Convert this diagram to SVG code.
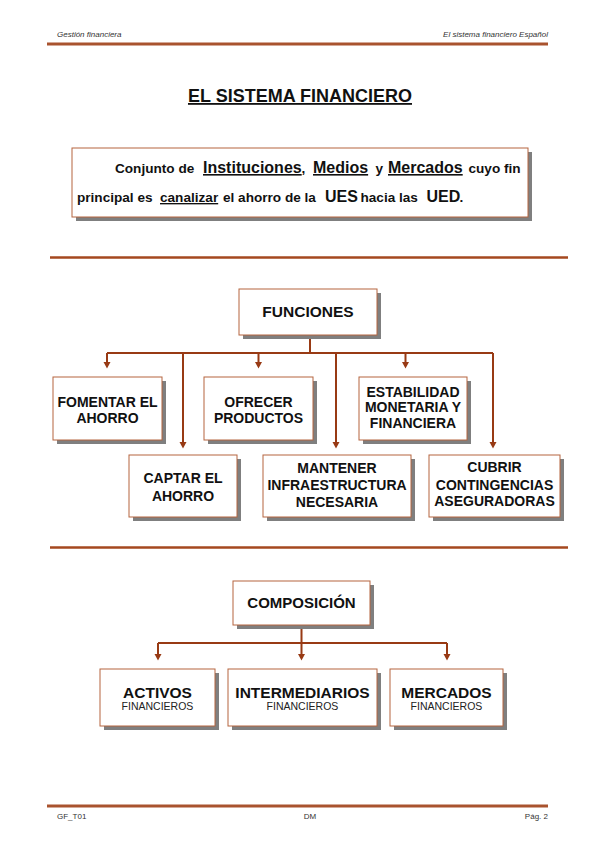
<svg xmlns="http://www.w3.org/2000/svg" width="599" height="848" viewBox="0 0 599 848">
<style>
.bg{fill:#ffffff}
.rule{stroke:#a9532e;stroke-width:3;fill:none}
.sep{stroke:#a5481f;stroke-width:2.5;fill:none}
.hdr{font-family:"Liberation Sans",Arial,sans-serif;font-size:8px;font-style:italic;fill:#333}
.ftr{font-family:"Liberation Sans",Arial,sans-serif;font-size:8px;fill:#333}
.title{font-family:"Liberation Sans",Arial,sans-serif;font-size:18px;font-weight:bold;fill:#111;text-anchor:middle;text-decoration:underline}
.def{font-family:"Liberation Sans",Arial,sans-serif;font-size:13.6px;font-weight:bold;fill:#111}
.big{font-size:16px}
.ul{text-decoration:underline}
.box{fill:#ffffff;stroke:#b5653f;stroke-width:1}
.shadow{fill:#7f7f7f}
.lbl{font-family:"Liberation Sans",Arial,sans-serif;font-size:14px;font-weight:bold;fill:#111;text-anchor:middle}
.head{font-size:15.5px}
.sub{font-family:"Liberation Sans",Arial,sans-serif;font-size:10.5px;fill:#222;text-anchor:middle}
.conn{stroke:#983a14;stroke-width:2;fill:none}
.ah{fill:#983a14}
</style>
<rect class="bg" x="0" y="0" width="599" height="848"/>

<g id="header">
<text class="hdr" x="57" y="37">Gestión financiera</text>
<text class="hdr" x="548" y="37" text-anchor="end">El sistema financiero Español</text>
<line class="rule" x1="47" y1="44" x2="548" y2="44"/>
</g>

<g id="title">
<text class="title" x="300" y="102">EL SISTEMA FINANCIERO</text>
</g>

<g id="definicion">
<rect class="shadow" x="76" y="152" width="456" height="69"/>
<rect class="box" x="72" y="148" width="456" height="69"/>
<text class="def" y="173"><tspan x="115">Conjunto de</tspan><tspan x="203" class="big ul">Instituciones</tspan><tspan x="301.5">,</tspan><tspan x="313" class="big ul">Medios</tspan><tspan x="375.5">y</tspan><tspan x="388" class="big ul">Mercados</tspan><tspan x="468.5">cuyo fin</tspan></text>
<text class="def" y="202"><tspan x="77">principal es</tspan><tspan x="160" class="ul">canalizar</tspan><tspan x="223">el ahorro de la</tspan><tspan x="325" class="big">UES</tspan><tspan x="360.5">hacia las</tspan><tspan x="426.5" class="big">UED</tspan><tspan x="459.5">.</tspan></text>
</g>

<line class="sep" x1="50" y1="257.5" x2="568" y2="257.5"/>
<line class="sep" x1="50" y1="547.5" x2="568" y2="547.5"/>

<g id="connectors">
<path class="conn" d="M310,335 V353 M107,353 H493"/>
<path class="conn" d="M107,353 V363 M183,353 V443 M258.5,353 V363 M336,353 V443 M405.5,353 V363 M493,353 V443"/>
<path class="ah" d="M103.5,362 h7 l-3.5,6.5 z M179.5,442 h7 l-3.5,6.5 z M255,362 h7 l-3.5,6.5 z M332.5,442 h7 l-3.5,6.5 z M402,362 h7 l-3.5,6.5 z M489.5,442 h7 l-3.5,6.5 z"/>
<path class="conn" d="M301.5,625 V643 M158,643 H447"/>
<path class="conn" d="M158,643 V655 M301.5,643 V655 M447,643 V655"/>
<path class="ah" d="M154.5,654 h7 l-3.5,6.5 z M298,654 h7 l-3.5,6.5 z M443.5,654 h7 l-3.5,6.5 z"/>
</g>

<g id="funciones">
<rect class="shadow" x="243" y="293" width="138" height="46"/>
<rect class="box" x="239" y="289" width="138" height="46"/>
<text class="lbl head" x="308" y="317">FUNCIONES</text>
</g>
<g id="fomentar">
<rect class="shadow" x="57" y="381" width="109" height="63"/>
<rect class="box" x="53" y="377" width="109" height="63"/>
<text class="lbl"><tspan x="107.5" y="407">FOMENTAR EL</tspan><tspan x="107.5" y="422.5">AHORRO</tspan></text>
</g>
<g id="ofrecer">
<rect class="shadow" x="208" y="381" width="109" height="63"/>
<rect class="box" x="204" y="377" width="109" height="63"/>
<text class="lbl"><tspan x="258.5" y="407">OFRECER</tspan><tspan x="258.5" y="422.5">PRODUCTOS</tspan></text>
</g>
<g id="estabilidad">
<rect class="shadow" x="363" y="381" width="108" height="63"/>
<rect class="box" x="359" y="377" width="108" height="63"/>
<text class="lbl"><tspan x="413" y="396.5">ESTABILIDAD</tspan><tspan x="413" y="412">MONETARIA Y</tspan><tspan x="413" y="427.5">FINANCIERA</tspan></text>
</g>
<g id="captar">
<rect class="shadow" x="133" y="459" width="108" height="62"/>
<rect class="box" x="129" y="455" width="108" height="62"/>
<text class="lbl"><tspan x="183" y="483">CAPTAR EL</tspan><tspan x="183" y="500.5">AHORRO</tspan></text>
</g>
<g id="mantener">
<rect class="shadow" x="267" y="459" width="148" height="62"/>
<rect class="box" x="263" y="455" width="148" height="62"/>
<text class="lbl"><tspan x="337" y="473">MANTENER</tspan><tspan x="337" y="490">INFRAESTRUCTURA</tspan><tspan x="337" y="506.5">NECESARIA</tspan></text>
</g>
<g id="cubrir">
<rect class="shadow" x="433" y="459" width="131" height="62"/>
<rect class="box" x="429" y="455" width="131" height="62"/>
<text class="lbl"><tspan x="494.5" y="472">CUBRIR</tspan><tspan x="494.5" y="489.5">CONTINGENCIAS</tspan><tspan x="494.5" y="506">ASEGURADORAS</tspan></text>
</g>

<g id="composicion">
<rect class="shadow" x="237" y="585" width="137" height="44"/>
<rect class="box" x="233" y="581" width="137" height="44"/>
<text class="lbl" x="301.5" y="608" style="font-size:15px">COMPOSICIÓN</text>
</g>
<g id="activos">
<rect class="shadow" x="104" y="673" width="115" height="57"/>
<rect class="box" x="100" y="669" width="115" height="57"/>
<text class="lbl head" x="157.5" y="697.5">ACTIVOS</text>
<text class="sub" x="157.5" y="709.5">FINANCIEROS</text>
</g>
<g id="intermediarios">
<rect class="shadow" x="232" y="673" width="149" height="57"/>
<rect class="box" x="228" y="669" width="149" height="57"/>
<text class="lbl head" x="302.5" y="697.5">INTERMEDIARIOS</text>
<text class="sub" x="302.5" y="709.5">FINANCIEROS</text>
</g>
<g id="mercados">
<rect class="shadow" x="394" y="673" width="113" height="57"/>
<rect class="box" x="390" y="669" width="113" height="57"/>
<text class="lbl head" x="446.5" y="697.5">MERCADOS</text>
<text class="sub" x="446.5" y="709.5">FINANCIEROS</text>
</g>

<g id="footer">
<line class="rule" x1="47" y1="806" x2="548" y2="806"/>
<text class="ftr" x="57" y="819">GF_T01</text>
<text class="ftr" x="310" y="819" text-anchor="middle">DM</text>
<text class="ftr" x="548" y="819" text-anchor="end">Pág. 2</text>
</g>
</svg>
